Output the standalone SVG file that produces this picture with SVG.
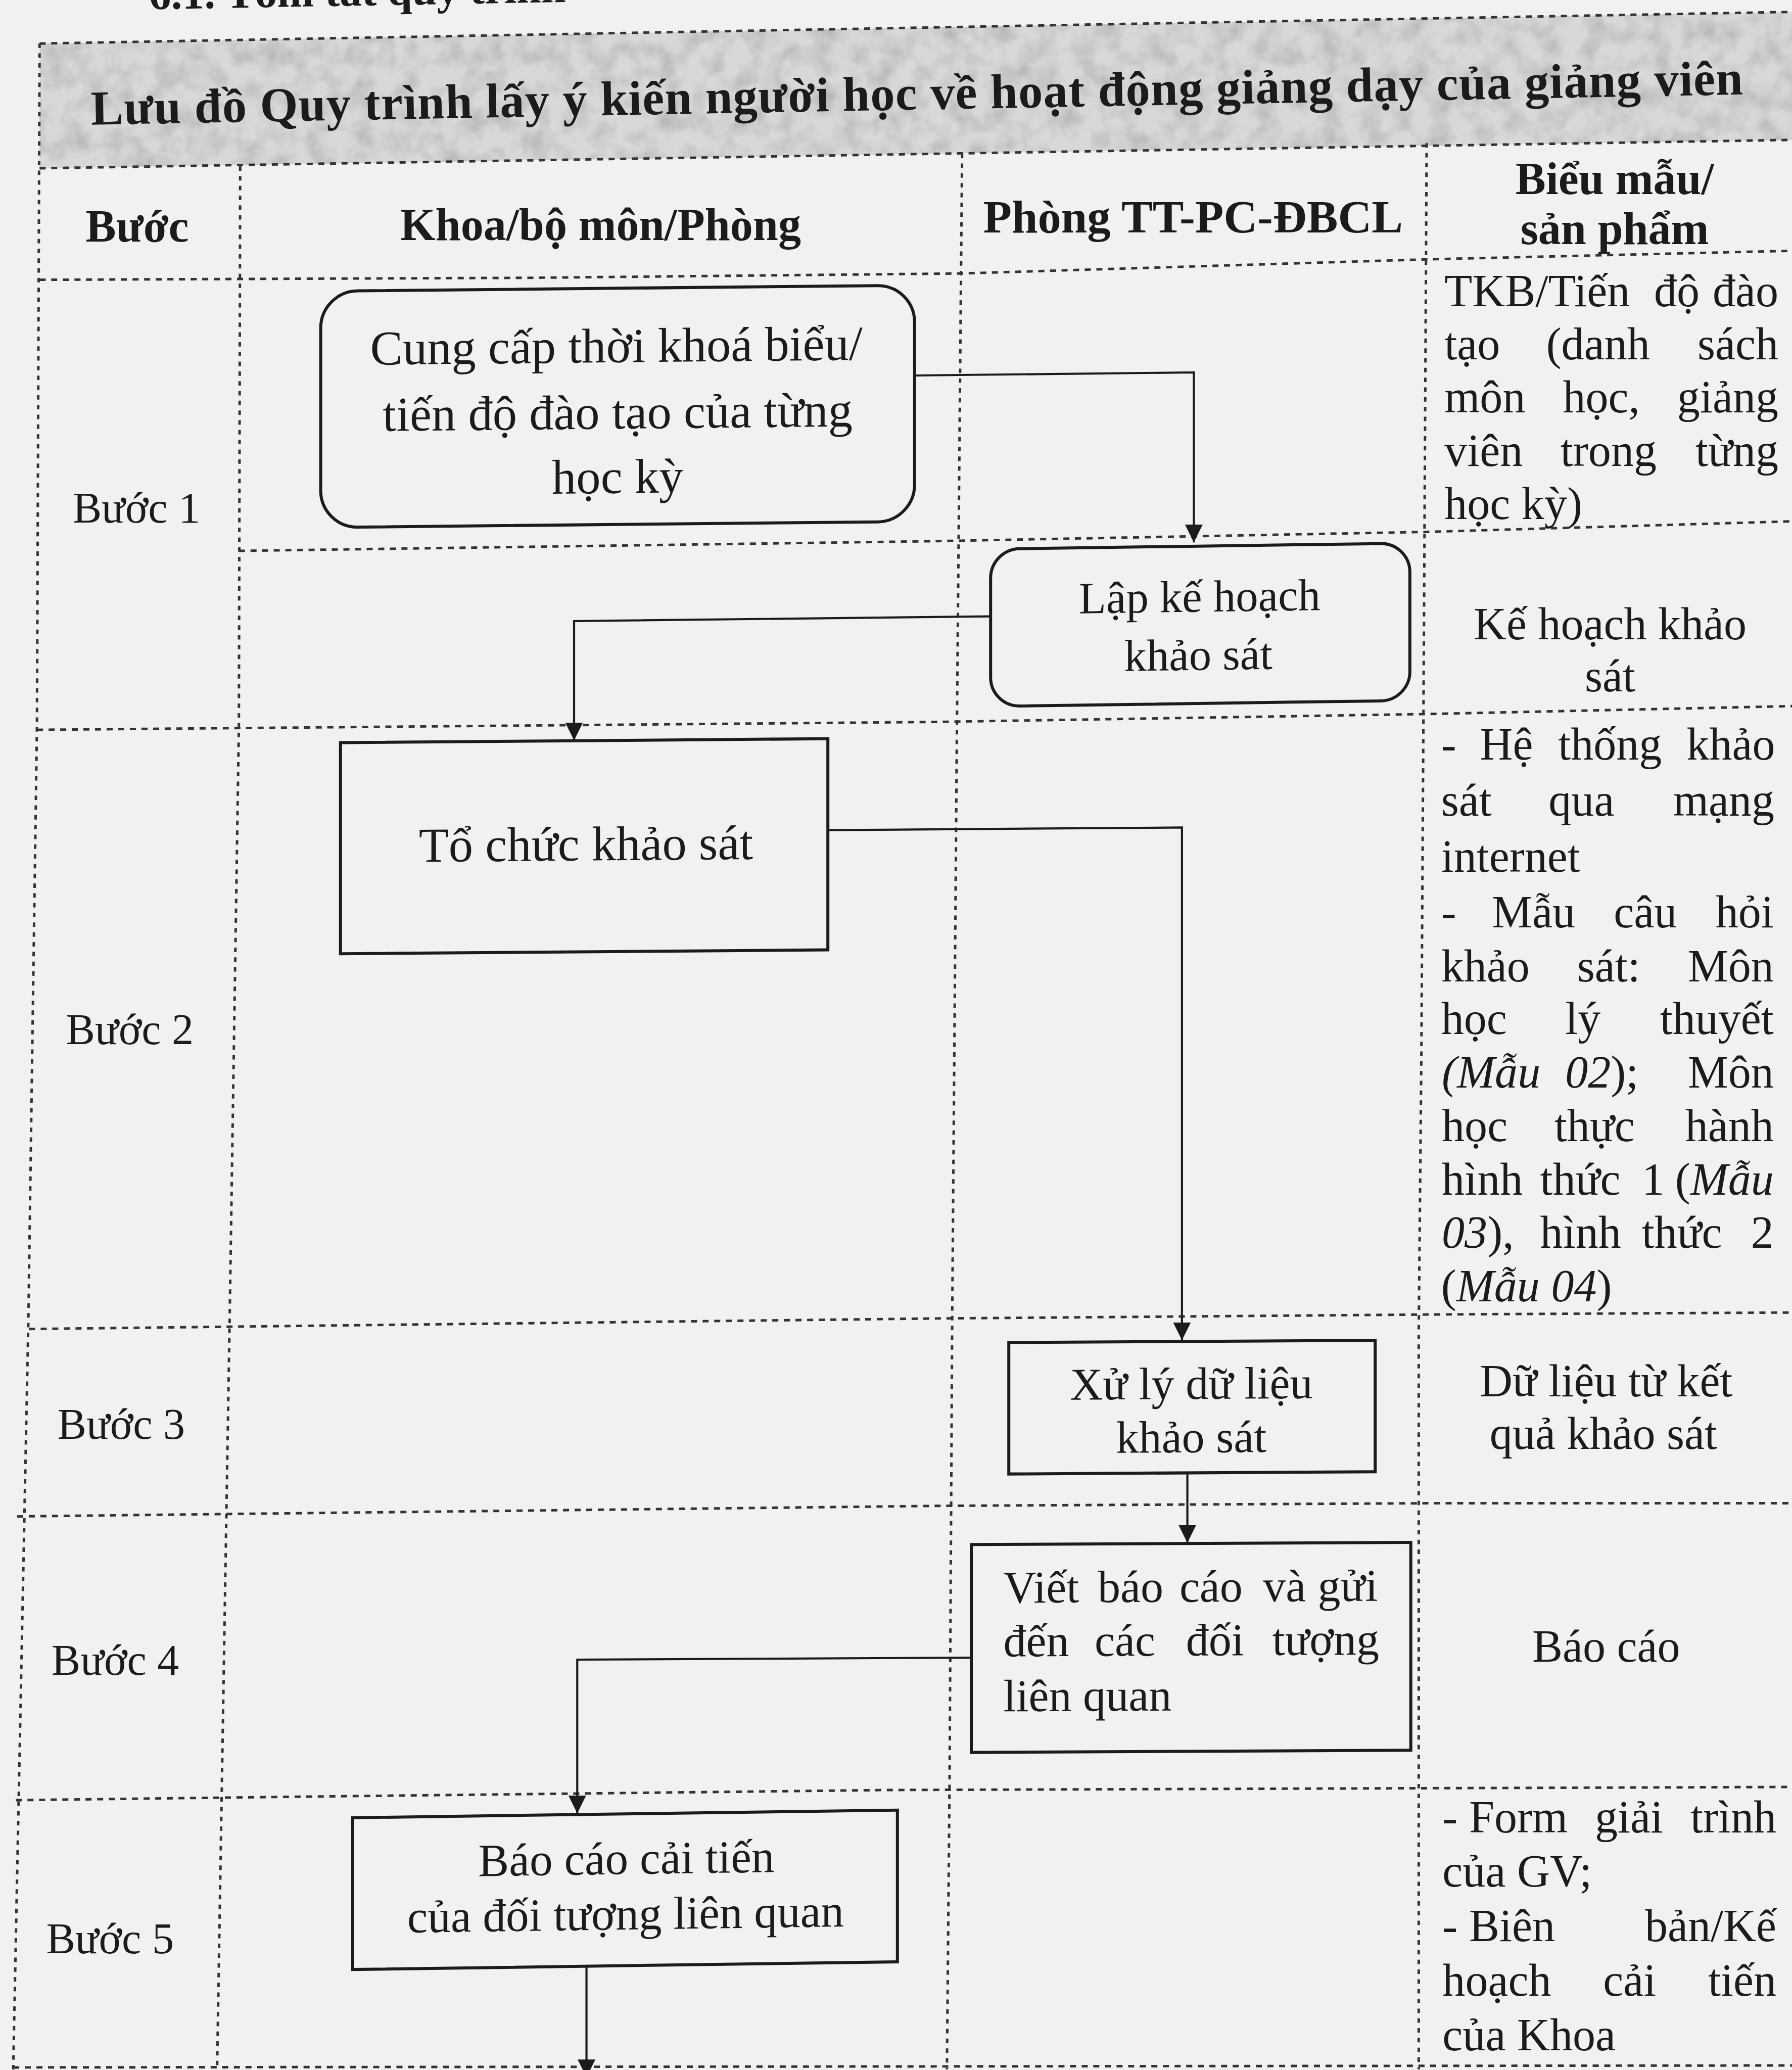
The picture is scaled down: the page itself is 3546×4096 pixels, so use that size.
<svg xmlns="http://www.w3.org/2000/svg" width="3546" height="4096" viewBox="0 0 3546 4096">
<style>
.hd{fill:none;stroke:#333;stroke-width:1.9;stroke-dasharray:4.6 4.2}
.vd{fill:none;stroke:#333;stroke-width:1.9;stroke-dasharray:3.4 4}
.box{fill:none;stroke:#1b1b1b;stroke-width:2.3}
.conn{fill:none;stroke:#1b1b1b;stroke-width:1.6}
text{font-family:"Liberation Serif","Times New Roman","DejaVu Serif",serif;fill:#1b1b1b}
.hb{font-weight:700;font-size:34.5px}
.s33{font-size:33px}
.s34{font-size:34px}
.s345{font-size:34.5px}
.s35{font-size:35px}
.s37{font-size:37px}
.it{font-style:italic}
.m{text-anchor:middle}
.e{text-anchor:end}
</style>
<defs>
<marker id="arr" markerUnits="userSpaceOnUse" markerWidth="14" markerHeight="14" viewBox="0 0 14 14" refX="13.5" refY="7" orient="auto">
<path d="M0,0.3 L13.5,7 L0,13.7 Z" fill="#1b1b1b"/>
</marker>
<filter id="grain" x="0" y="0" width="1" height="1">
<feTurbulence type="fractalNoise" baseFrequency="0.06" numOctaves="3" seed="7" result="n"/>
<feColorMatrix in="n" type="matrix" values="0 0 0 0 0.35 0 0 0 0 0.35 0 0 0 0 0.35 0 0 0 1.2 -0.45" result="spots"/>
<feComposite in="spots" in2="SourceGraphic" operator="in" result="clip"/>
<feMerge><feMergeNode in="SourceGraphic"/><feMergeNode in="clip"/></feMerge>
</filter>
</defs>
<rect x="0" y="0" width="3546" height="4096" fill="#f1f1ef"/>
<g transform="scale(2.6115)">
<!-- title band -->
<g id="title-band">
<polygon points="30,33 1358,9 1358,106 30,127.5" fill="#d8d8d6" filter="url(#grain)"/>
<text class="hb" style="font-size:33.5px" x="113" y="7" transform="rotate(-1 113 7)">6.1. Tóm tắt quy trình</text>
<text class="hb" style="font-size:37px" x="69" y="94.5" textLength="1252" lengthAdjust="spacing" transform="rotate(-1.05 69 94.5)">Lưu đồ Quy trình lấy ý kiến người học về hoạt động giảng dạy của giảng viên</text>
</g>
<!-- grid -->
<g id="grid">
<polyline class="hd" points="30,33 1358,9"/>
<polyline class="hd" points="30,127.5 1358,106"/>
<polyline class="hd" points="30,212 400,210.5 729,207.2 1082,196.5 1358,190"/>
<polyline class="hd" points="181,417.4 710,410 1082,403 1358,395"/>
<polyline class="hd" points="28,553 710,547 1082,541 1358,535"/>
<polyline class="hd" points="22,1007 710,999 1084,996 1358,994.5"/>
<polyline class="hd" points="13,1149 710,1141 1084,1139 1358,1139"/>
<polyline class="hd" points="12,1364 224,1361.4 673,1356.3 1358,1354"/>
<polyline class="hd" points="10,1566.5 1358,1565"/>
<polyline class="vd" points="30,33 28,550 21.5,1000 10,1568"/>
<polyline class="vd" points="182,126 181,550 174,1000 164.5,1568"/>
<polyline class="vd" points="729,116.5 725,560 721.5,1000 719.5,1350 717.5,1568"/>
<polyline class="vd" points="1081,108.5 1079,470 1077,800 1075,1010 1075,1568"/>
</g>
<!-- header -->
<g id="header">
<text class="hb m" x="104" y="183">Bước</text>
<text class="hb m" x="455" y="182">Khoa/bộ môn/Phòng</text>
<text class="hb" x="745" y="176" textLength="318" lengthAdjust="spacingAndGlyphs">Phòng TT-PC-ĐBCL</text>
<text class="hb m" x="1223.5" y="147">Biểu mẫu/</text>
<text class="hb m" x="1223.5" y="185">sản phẩm</text>
</g>
<!-- step labels -->
<g id="steps">
<text class="s33" x="55" y="396">Bước 1</text>
<text class="s33" x="50" y="791">Bước 2</text>
<text class="s33" x="43.5" y="1090">Bước 3</text>
<text class="s33" x="39" y="1269">Bước 4</text>
<text class="s33" x="35" y="1480">Bước 5</text>
</g>
<!-- nodes -->
<g id="n1" transform="matrix(1 -0.01 0 1 0 4.68)">
<rect class="box" x="243" y="218.4" width="450" height="179" rx="28"/>
<text class="s37 m"><tspan x="467" y="274.5">Cung cấp thời khoá biểu/</tspan><tspan x="468" y="324.8">tiến độ đào tạo của từng</tspan><tspan x="468" y="373.6">học kỳ</tspan></text>
</g>
<g id="n2" transform="matrix(1 -0.014 0 1 0 12.73)">
<rect class="box" x="750.6" y="413.8" width="317.7" height="119.2" rx="22"/>
<text class="s34 m"><tspan x="909" y="463.5">Lập kế hoạch</tspan><tspan x="908" y="507.6">khảo sát</tspan></text>
</g>
<g id="n3" transform="matrix(1 -0.008 0 1 0 3.54)">
<rect class="box" x="258" y="561.2" width="369.3" height="160"/>
<text class="s37 m" x="444" y="652">Tổ chức khảo sát</text>
</g>
<g id="n4" transform="matrix(1 -0.006 0 1 0 5.42)">
<rect class="box" x="764.4" y="1016.4" width="277.6" height="99.6"/>
<text class="s345 m"><tspan x="902.7" y="1060">Xử lý dữ liệu</tspan><tspan x="902.7" y="1100.5">khảo sát</tspan></text>
</g>
<g id="n5" transform="matrix(1 -0.005 0 1 0 4.51)">
<rect class="box" x="736" y="1169.5" width="333" height="157.5"/>
<text class="s345" y="1213.7"><tspan x="760.3">Viết</tspan><tspan x="831.7">báo</tspan><tspan x="893.7">cáo</tspan><tspan x="957">và</tspan><tspan x="1044" text-anchor="end">gửi</tspan></text>
<text class="s345" y="1254.4"><tspan x="760.3">đến</tspan><tspan x="829.4">các</tspan><tspan x="898.6">đối</tspan><tspan x="1045" text-anchor="end">tượng</tspan></text>
<text class="s345" x="760.3" y="1296">liên quan</text>
</g>
<g id="n6" transform="matrix(1 -0.014 0 1 0 6.63)">
<rect class="box" x="267.2" y="1374.4" width="412.8" height="115"/>
<text class="s35 m"><tspan x="474.6" y="1420">Báo cáo cải tiến</tspan><tspan x="474" y="1462">của đối tượng liên quan</tspan></text>
</g>
<!-- connectors -->
<g id="connectors">
<polyline class="conn" points="693,284.5 904.6,282.2 904.6,411" marker-end="url(#arr)"/>
<polyline class="conn" points="750.6,467 435,470.6 435,561" marker-end="url(#arr)"/>
<polyline class="conn" points="627.3,629 895.6,627 895.6,1015.5" marker-end="url(#arr)"/>
<polyline class="conn" points="899.7,1116 899.7,1169" marker-end="url(#arr)"/>
<polyline class="conn" points="736,1256 437.4,1257.5 437.4,1374" marker-end="url(#arr)"/>
<polyline class="conn" points="444.4,1490 444.4,1574" marker-end="url(#arr)"/>
</g>
<!-- products column -->
<g id="products">
<text class="s345" y="232"><tspan x="1094.5">TKB/Tiến</tspan><tspan x="1253.3">độ</tspan><tspan x="1347.5" text-anchor="end">đào</tspan></text>
<text class="s345" y="272.3"><tspan x="1094.5">tạo</tspan><tspan x="1171.6">(danh</tspan><tspan x="1347.5" text-anchor="end">sách</tspan></text>
<text class="s345" y="312.6"><tspan x="1094.5">môn</tspan><tspan x="1184.2">học,</tspan><tspan x="1347.5" text-anchor="end">giảng</tspan></text>
<text class="s345" y="353"><tspan x="1094.5">viên</tspan><tspan x="1182.4">trong</tspan><tspan x="1347.5" text-anchor="end">từng</tspan></text>
<text class="s345" x="1094.5" y="393.3">học kỳ)</text>

<text class="s345 m"><tspan x="1220" y="484.5">Kế hoạch khảo</tspan><tspan x="1220" y="524">sát</tspan></text>

<text class="s345" y="575.4"><tspan x="1092">-</tspan><tspan x="1121.4">Hệ</tspan><tspan x="1180.6">thống</tspan><tspan x="1345" text-anchor="end">khảo</tspan></text>
<text class="s345" y="618"><tspan x="1092">sát</tspan><tspan x="1173.4">qua</tspan><tspan x="1344.5" text-anchor="end">mạng</tspan></text>
<text class="s345" x="1092" y="660.5">internet</text>
<text class="s345" y="702.5"><tspan x="1092">-</tspan><tspan x="1130.4">Mẫu</tspan><tspan x="1222.8">câu</tspan><tspan x="1344" text-anchor="end">hỏi</tspan></text>
<text class="s345" y="743.5"><tspan x="1092">khảo</tspan><tspan x="1195">sát:</tspan><tspan x="1344" text-anchor="end">Môn</tspan></text>
<text class="s345" y="783.6"><tspan x="1092">học</tspan><tspan x="1186">lý</tspan><tspan x="1344" text-anchor="end">thuyết</tspan></text>
<text class="s345" y="824.1"><tspan x="1092.5" class="it">(Mẫu</tspan><tspan x="1186" class="it">02</tspan><tspan>);</tspan><tspan x="1344" text-anchor="end">Môn</tspan></text>
<text class="s345" y="864.6"><tspan x="1092.5">học</tspan><tspan x="1177.8">thực</tspan><tspan x="1344" text-anchor="end">hành</tspan></text>
<text class="s345" y="905.1"><tspan x="1092.5">hình</tspan><tspan x="1167">thức</tspan><tspan x="1244">1</tspan><tspan x="1344" text-anchor="end">(<tspan class="it">Mẫu</tspan></tspan></text>
<text class="s345" y="945.6"><tspan x="1092.5"><tspan class="it">03</tspan>),</tspan><tspan x="1167">hình</tspan><tspan x="1244">thức</tspan><tspan x="1344" text-anchor="end">2</tspan></text>
<text class="s345" x="1092" y="986.1">(<tspan class="it">Mẫu 04</tspan>)</text>

<text class="s345 m"><tspan x="1217" y="1058">Dữ liệu từ kết</tspan><tspan x="1215" y="1098">quả khảo sát</tspan></text>

<text class="s345 m" x="1217" y="1259">Báo cáo</text>

<text class="s345" y="1388.4"><tspan x="1093">- Form</tspan><tspan x="1208.5">giải</tspan><tspan x="1346" text-anchor="end">trình</tspan></text>
<text class="s345" x="1093" y="1429.5">của GV;</text>
<text class="s345" y="1470.8"><tspan x="1093">- Biên</tspan><tspan x="1346" text-anchor="end">bản/Kế</tspan></text>
<text class="s345" y="1512.2"><tspan x="1093">hoạch</tspan><tspan x="1214.7">cải</tspan><tspan x="1346" text-anchor="end">tiến</tspan></text>
<text class="s345" x="1093" y="1553.6">của Khoa</text>
</g>
</g>
</svg>
